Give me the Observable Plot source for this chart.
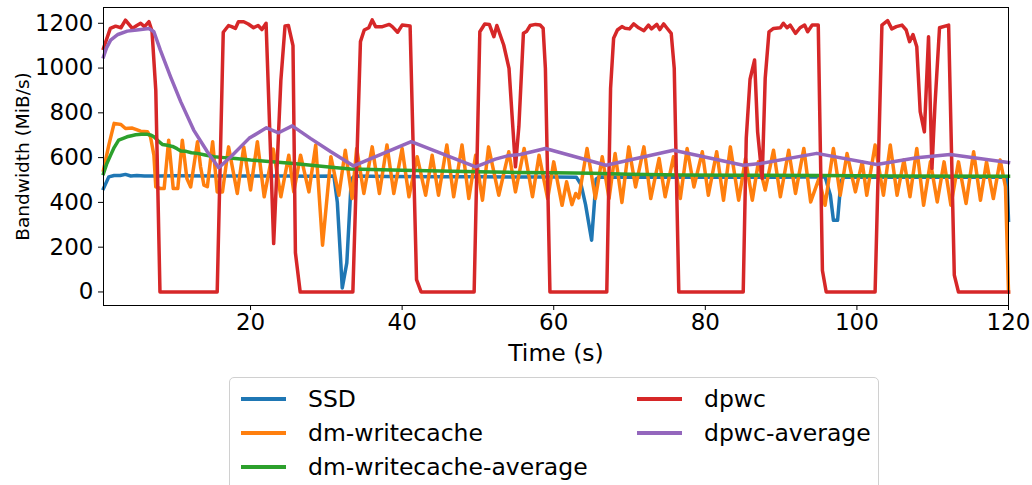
<!DOCTYPE html>
<html><head><meta charset="utf-8">
<script src="https://cdn.jsdelivr.net/npm/d3@7"></script>
<script src="https://cdn.jsdelivr.net/npm/@observablehq/plot@0.6"></script>
<style>
body{margin:0;background:#fff;font-family:"DejaVu Sans",sans-serif;}
#wrap{position:relative;width:1032px;height:485px;overflow:hidden;background:#fff;}
#legend{position:absolute;left:229px;top:377px;width:650px;height:130px;border:1px solid #d0d0d0;border-radius:5px;background:#fff;box-sizing:border-box;}
.item{position:absolute;height:30px;font-size:23.5px;line-height:30px;color:#000;}
.item .sw{position:absolute;left:0;top:13px;width:45px;height:3.5px;}
.item span{position:absolute;left:67px;white-space:nowrap;}
</style></head>
<body><div id="wrap"><div id="chart"></div><div id="legend"></div></div>
<script>
const seriesNames = ["SSD", "dm-writecache", "dm-writecache-average", "dpwc", "dpwc-average"];
const seriesColors = ["#1f77b4", "#ff7f0e", "#2ca02c", "#d62728", "#9467bd"];
const xTicks = [20, 40, 60, 80, 100, 120];
const yTicks = [0, 200, 400, 600, 800, 1000, 1200];

const ssd = [[0.6,462],[1.3,514],[2.0,520],[2.8,520],[3.5,525],[4.2,518],[5,520],[6,518],[8,518],[10,519],[15,518],[20,518],[25,518],[28,517],[31.0,518],[31.45,400],[32.1,18],[32.7,130],[33.3,505],[33.7,518],[38,516],[45,515],[50,514],[55,513],[60,513],[63.0,512],[63.6,480],[64.2,390],[65.0,231],[65.6,505],[66.0,513],[70,512],[80,512],[90,512],[95.8,514],[96.5,432],[96.9,320],[97.45,320],[97.9,497],[98.3,512],[105,512],[110,512],[115,512],[119.8,512],[120,320]];

const dmwc = [[0.6,544],[1.3,656],[2.0,753],[2.9,748],[3.5,730],[4.4,732],[5.5,718],[6.4,716],[6.8,693],[7.25,611],[7.5,469],[8.1,462],[8.6,462],[9.2,678],[9.8,462],[10.4,462],[11.0,678],[11.6,507],[12.1,469],[13.0,671],[13.4,560],[13.85,477],[14.3,470],[15.0,671],[15.6,447],[16.3,447],[17.1,648],[18.25,440],[19.1,648],[20.0,455],[20.9,671],[21.8,425],[23.0,638],[24.0,425],[25.05,611],[25.7,447],[26.6,611],[27.7,447],[28.6,656],[29.5,209],[30.6,604],[31.65,432],[32.5,633],[33.4,417],[34.0,641],[34.95,440],[36.05,648],[37.0,440],[38.0,656],[38.9,440],[40.0,641],[40.9,425],[41.98,604],[43.1,432],[43.96,611],[44.8,432],[45.9,656],[46.8,425],[47.9,656],[48.8,417],[49.7,611],[50.6,410],[51.4,648],[52.75,432],[54.07,626],[54.95,447],[56.1,641],[57.2,425],[58.06,611],[59.2,417],[60.0,581],[61.1,387],[61.7,492],[62.4,390],[62.9,440],[63.3,420],[64.4,641],[65.5,417],[66.4,604],[67.3,417],[68.1,618],[69.0,400],[69.9,648],[70.8,469],[71.9,648],[72.8,417],[73.9,596],[74.7,425],[75.8,604],[76.7,417],[77.6,641],[78.5,469],[79.6,626],[80.4,432],[81.5,626],[82.4,410],[83.3,648],[84.4,410],[85.3,596],[86.2,410],[87.0,581],[87.9,455],[89.0,633],[89.9,425],[91.0,633],[91.9,440],[93.0,641],[93.9,402],[95.0,507],[95.8,387],[96.9,641],[97.8,432],[98.7,618],[99.8,447],[100.7,581],[101.3,432],[102.4,656],[103.5,432],[104.4,656],[105.3,432],[106.2,589],[107.0,425],[107.9,641],[108.8,387],[109.7,581],[110.6,402],[111.5,581],[112.4,387],[113.4,581],[114.4,395],[115.4,626],[116.3,410],[117.1,581],[118.0,417],[118.9,589],[119.6,470],[120,0]];

const dmwcAvg = [[0.6,529],[1.0,570],[1.54,611],[2.0,645],[2.6,678],[3.2,686],[3.7,693],[4.3,698],[4.84,702],[5.6,704],[6.4,704],[6.9,700],[7.25,693],[7.8,675],[8.36,659],[9.0,655],[9.7,650],[10.3,640],[10.8,630],[11.5,628],[12.2,622],[13.0,619],[14.0,612],[15.2,604],[16.5,600],[18.0,596],[20,589],[22,584],[25.7,574],[28,566],[31,556],[33.2,549],[36,547],[40,544],[45,540],[50,537],[55,534],[60,532],[65,530],[70,526],[76.7,522],[85,521],[95,520],[105,518],[120,517]];

const dpwc = [[0.6,1088],[1.5,1177],[2.2,1187],[2.9,1180],[3.5,1214],[4.4,1177],[5.0,1190],[5.5,1200],[6.0,1185],[6.6,1207],[7.0,1165],[7.5,900],[8.05,0],[15.6,0],[16.4,1160],[17.1,1190],[17.5,1185],[18.0,1177],[18.4,1207],[19.1,1207],[19.7,1197],[20.4,1180],[21.0,1190],[21.5,1172],[22.05,1200],[23.05,216],[24.0,945],[24.55,1188],[25.0,1190],[25.6,1100],[25.92,175],[26.55,0],[33.5,0],[34.5,1118],[35.0,1170],[35.6,1180],[36.05,1215],[36.5,1185],[37.4,1185],[38.3,1195],[38.7,1185],[39.4,1160],[40.0,1192],[41.05,1188],[41.9,55],[42.5,0],[49.5,0],[50.25,1162],[50.9,1197],[51.5,1195],[52.1,1140],[52.5,1190],[53.4,1103],[54.1,999],[54.5,790],[54.95,559],[55.4,738],[56.0,1155],[56.4,1163],[56.9,1190],[57.6,1195],[58.2,1192],[58.6,1178],[58.9,999],[59.5,0],[67.0,0],[67.5,909],[67.9,1133],[68.4,1170],[69.0,1185],[69.4,1178],[70.0,1175],[70.55,1197],[71.2,1180],[71.9,1167],[72.5,1192],[72.9,1175],[73.6,1195],[74.0,1172],[74.5,1197],[74.9,1180],[75.5,1155],[75.9,999],[76.5,0],[85.0,0],[85.4,686],[85.9,950],[86.5,1036],[86.9,715],[87.5,507],[87.9,954],[88.4,1162],[89.0,1177],[89.9,1180],[90.3,1200],[90.8,1180],[91.2,1192],[91.9,1155],[92.5,1180],[93.1,1192],[93.5,1162],[94.1,1192],[94.9,1192],[95.45,96],[95.95,0],[102.4,0],[103.3,1192],[104.05,1212],[104.6,1175],[105.2,1185],[105.95,1192],[106.5,1170],[106.95,1118],[107.4,1150],[107.9,1095],[108.35,805],[108.9,715],[109.45,1140],[109.9,552],[110.3,835],[110.9,1180],[112.1,1192],[112.85,75],[113.4,0],[120,0]];

const dpwcAvg = [[0.6,1050],[1.0,1090],[1.54,1125],[2.5,1150],[3.74,1165],[5.0,1170],[6.6,1177],[7.25,1162],[8.1,1080],[9.45,961],[10.8,849],[12.5,723],[14.3,626],[15.8,555],[17.4,604],[19.8,686],[22.1,733],[23.7,711],[25.5,742],[27.9,686],[30.6,626],[33.6,563],[41.2,671],[49.7,559],[52.3,593],[53.9,608],[55.6,614],[58.9,641],[66.9,566],[75.8,633],[85.0,566],[87.3,574],[94.7,619],[102.6,569],[107.9,599],[112.3,614],[120,578]];

const allSeries = [ssd, dmwc, dmwcAvg, dpwc, dpwcAvg];

const chart = Plot.plot({
  width: 1032, height: 372,
  marginLeft: 103, marginRight: 24, marginTop: 7, marginBottom: 67,
  style: {fontFamily: "DejaVu Sans", fontSize: "23px", color: "#000", background: "#fff", overflow: "visible"},
  x: {domain: [0.6, 120]},
  y: {domain: [-60.5, 1270.5]},
  marks: [
    Plot.axisX(xTicks, {tickSize: 5, tickPadding: 3, label: null, fontSize: 23, tickFormat: d => String(d), stroke: "#000"}),
    Plot.axisY(yTicks, {tickSize: 5, tickPadding: 5, label: null, fontSize: 23, tickFormat: d => String(d), stroke: "#000"}),
    ...allSeries.map((s, i) => Plot.line(s, {x: d => d[0], y: d => d[1], stroke: seriesColors[i], strokeWidth: 3.5, strokeLinejoin: "round", strokeLinecap: "square"})),
    Plot.frame({stroke: "#000", strokeWidth: 1}),
    Plot.text(["Time (s)"], {frameAnchor: "bottom", dy: 48, fontSize: 23.5, lineAnchor: "middle"}),
    Plot.text(["Bandwidth (MiB/s)"], {frameAnchor: "left", dx: -80, rotate: -90, fontSize: 18.5, lineAnchor: "middle", textAnchor: "middle"})
  ]
});
document.getElementById("chart").appendChild(chart);

const legend = document.getElementById("legend");
const legendPos = [[11, 6], [11, 40], [11, 74], [407, 6], [407, 40]];
seriesNames.forEach((name, i) => {
  const it = document.createElement("div");
  it.className = "item";
  it.style.left = legendPos[i][0] + "px";
  it.style.top = legendPos[i][1] + "px";
  const sw = document.createElement("div");
  sw.className = "sw";
  sw.style.background = seriesColors[i];
  const sp = document.createElement("span");
  sp.textContent = name;
  it.appendChild(sw); it.appendChild(sp);
  legend.appendChild(it);
});
</script></body></html>
